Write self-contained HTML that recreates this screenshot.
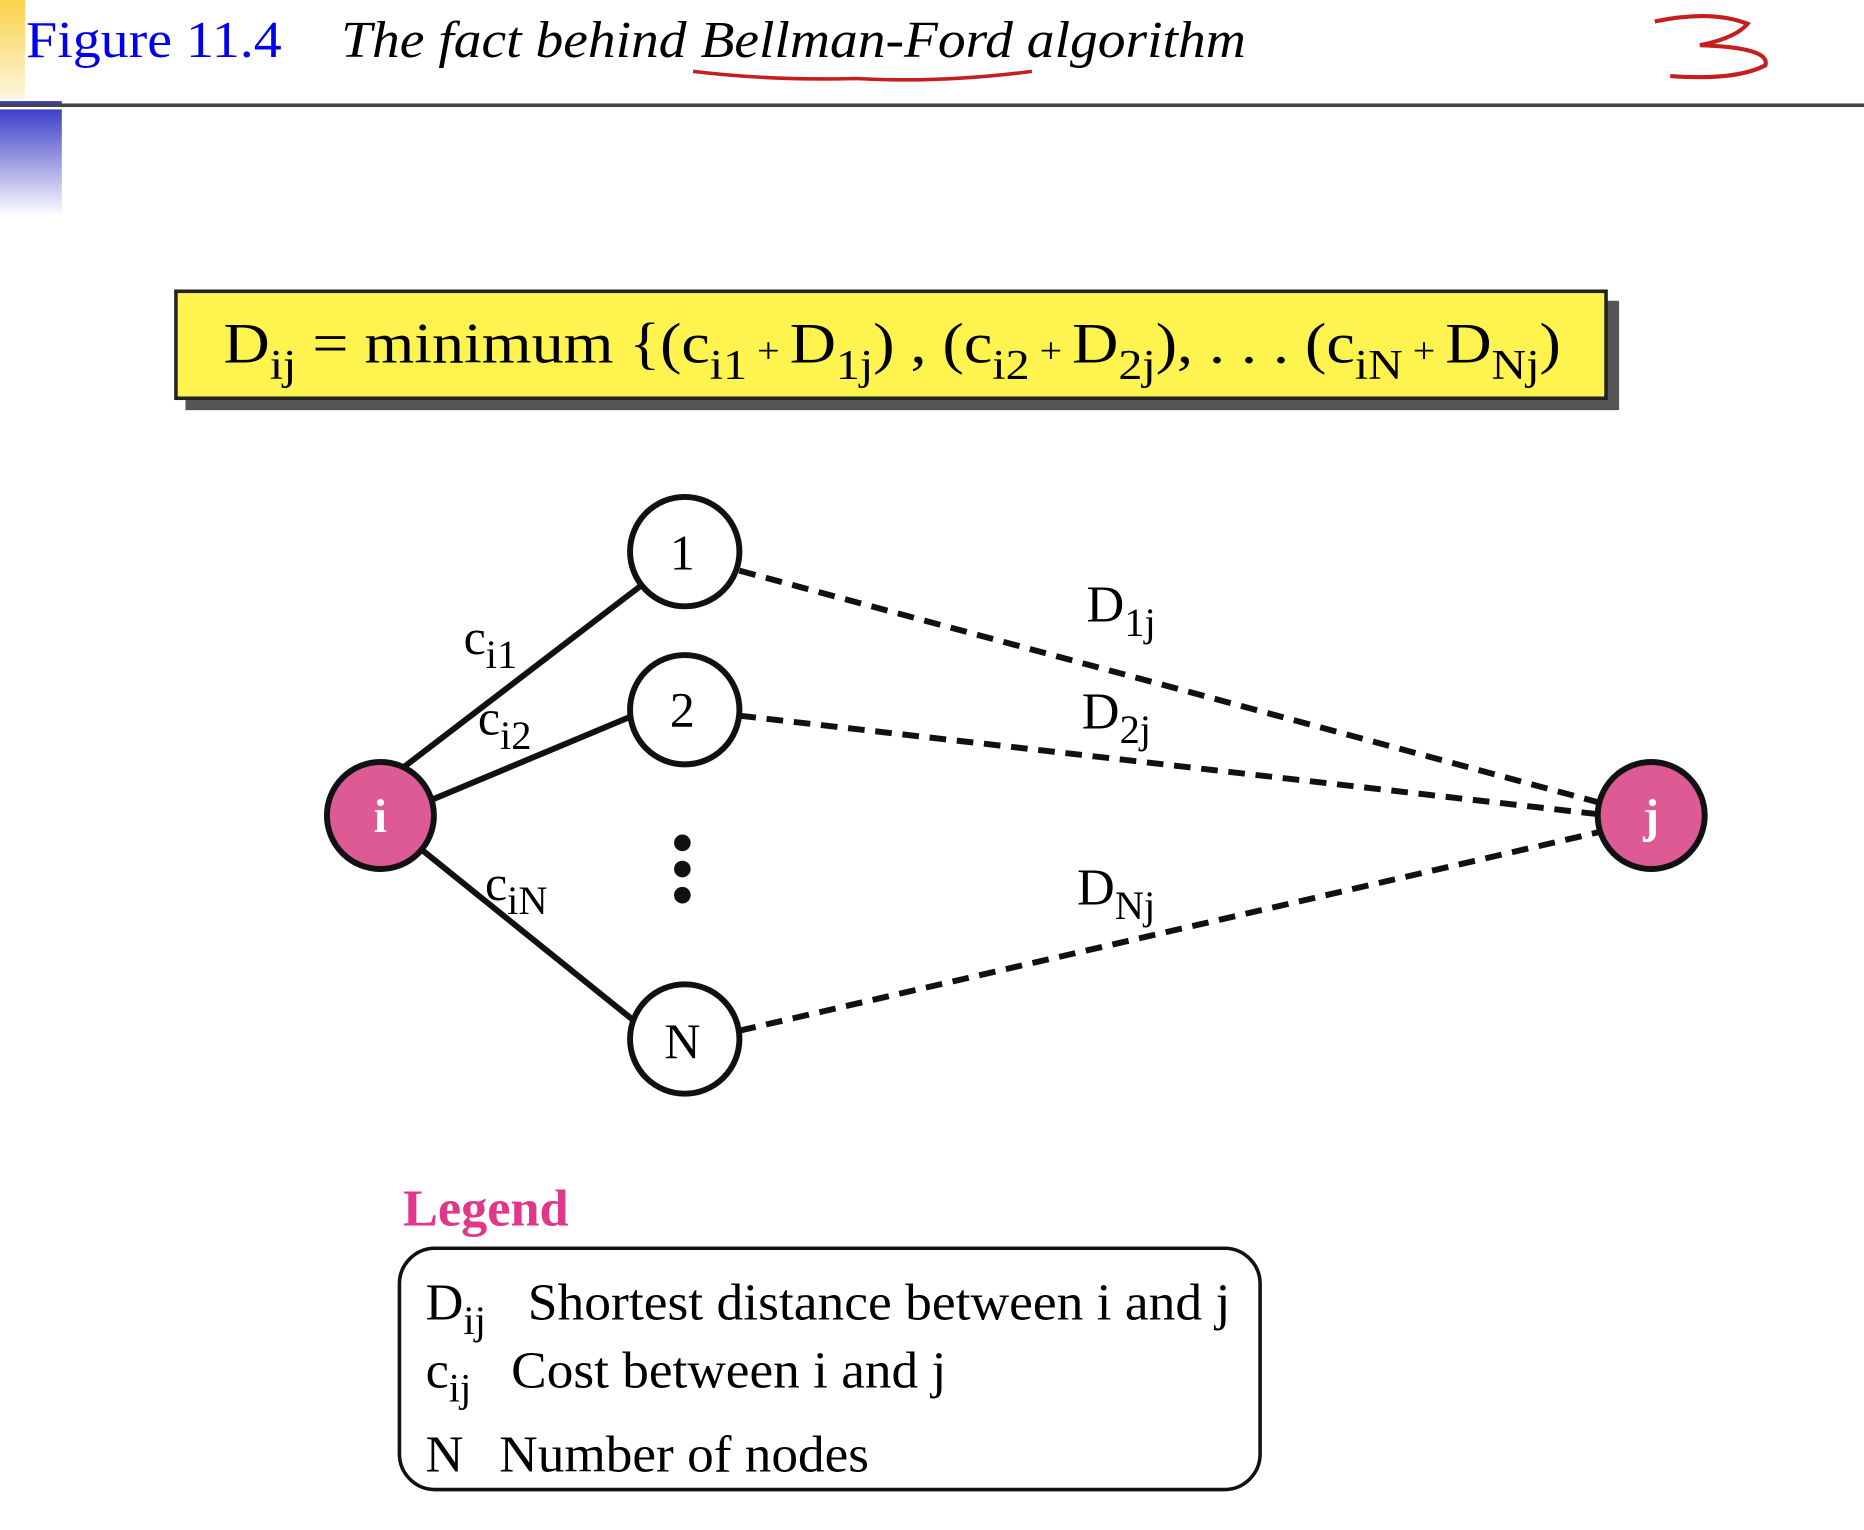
<!DOCTYPE html>
<html><head><meta charset="utf-8"><style>
html,body{margin:0;padding:0;background:#fff;}
svg{display:block;}
text{font-family:"Liberation Serif",serif;}
</style></head><body>
<svg width="1864" height="1530" viewBox="0 0 1568 1287" xmlns="http://www.w3.org/2000/svg">
<defs>
<linearGradient id="yg" x1="0" y1="0" x2="0" y2="1"><stop offset="0" stop-color="#f8d24a"/><stop offset="1" stop-color="#fdf6e0"/></linearGradient>
<linearGradient id="bg" x1="0" y1="0" x2="0" y2="1"><stop offset="0" stop-color="#3e3fc8"/><stop offset="1" stop-color="#ffffff"/></linearGradient>
</defs>
<rect x="0" y="0" width="21" height="84" fill="url(#yg)"/>
<rect x="0" y="85" width="52" height="3" fill="#3e3fc8"/>
<rect x="0" y="92" width="52" height="90" fill="url(#bg)"/>
<rect x="0" y="87" width="1568" height="3" fill="#444"/>
<text x="22" y="48" font-size="44" fill="#0000ee" textLength="215" lengthAdjust="spacingAndGlyphs">Figure 11.4</text>
<text x="287" y="48" font-size="44" font-style="italic" fill="#000" textLength="761" lengthAdjust="spacingAndGlyphs">The fact behind Bellman-Ford algorithm</text>
<path d="M583 60 Q650 68 720 66 Q790 70 868 60" stroke="#c41e1e" stroke-width="3" fill="none"/>
<path d="M1392 18 Q1440 8 1470 20 Q1460 32 1430 38 Q1490 40 1485 55 Q1460 68 1405 64" stroke="#c41e1e" stroke-width="3.5" fill="none"/>

<rect x="156" y="253" width="1206" height="92" fill="#555"/>
<rect x="148" y="245" width="1203" height="90" fill="#fff44f" stroke="#222" stroke-width="3"/>
<text x="188" y="305" font-size="48" textLength="1125" lengthAdjust="spacingAndGlyphs">D<tspan font-size="36" dy="14">ij</tspan><tspan dy="-14"> = minimum {(c</tspan><tspan font-size="36" dy="14">i1</tspan><tspan dy="-14" font-size="30"> + </tspan><tspan dy="0"> D</tspan><tspan font-size="36" dy="14">1j</tspan><tspan dy="-14">) , (c</tspan><tspan font-size="36" dy="14">i2</tspan><tspan dy="-14" font-size="30"> + </tspan><tspan> D</tspan><tspan font-size="36" dy="14">2j</tspan><tspan dy="-14">), . . . (c</tspan><tspan font-size="36" dy="14">iN</tspan><tspan dy="-14" font-size="30"> + </tspan><tspan> D</tspan><tspan font-size="36" dy="14">Nj</tspan><tspan dy="-14">)</tspan></text>

<g stroke="#111" stroke-width="5" fill="none">
<line x1="340" y1="645" x2="540" y2="492"/>
<line x1="365" y1="672" x2="530" y2="603"/>
<line x1="355" y1="715" x2="535" y2="860"/>
</g>
<g stroke="#111" stroke-width="5" fill="none" stroke-dasharray="14 9">
<line x1="622" y1="480" x2="1345" y2="675"/>
<line x1="622" y1="602" x2="1345" y2="685"/>
<line x1="622" y1="867" x2="1345" y2="700"/>
</g>
<g stroke="#111" stroke-width="5">
<circle cx="320" cy="686" r="45" fill="#dd5a95"/>
<circle cx="1389" cy="686" r="45" fill="#dd5a95"/>
<circle cx="576" cy="464" r="46" fill="#fff"/>
<circle cx="576" cy="597" r="46" fill="#fff"/>
<circle cx="576" cy="874" r="46" fill="#fff"/>
</g>
<text x="320" y="700" font-size="40" font-weight="bold" fill="#fff" text-anchor="middle">i</text>
<text x="1389" y="700" font-size="40" font-weight="bold" fill="#fff" text-anchor="middle">j</text>
<text x="574" y="479" font-size="42" text-anchor="middle">1</text>
<text x="574" y="611" font-size="42" text-anchor="middle">2</text>
<text x="574" y="890" font-size="42" text-anchor="middle">N</text>
<circle cx="574" cy="709" r="7" fill="#111"/><circle cx="574" cy="731" r="7" fill="#111"/><circle cx="574" cy="753" r="7" fill="#111"/>

<text x="390" y="550" font-size="42">c<tspan font-size="34" dy="12">i1</tspan></text>
<text x="402" y="618" font-size="42">c<tspan font-size="34" dy="12">i2</tspan></text>
<text x="408" y="757" font-size="42">c<tspan font-size="34" dy="12">iN</tspan></text>
<text x="914" y="523" font-size="44">D<tspan font-size="34" dy="12">1j</tspan></text>
<text x="910" y="613" font-size="44">D<tspan font-size="34" dy="12">2j</tspan></text>
<text x="906" y="761" font-size="44">D<tspan font-size="34" dy="12">Nj</tspan></text>

<text x="339" y="1031" font-size="44" font-weight="bold" fill="#e0378a">Legend</text>
<rect x="336" y="1050" width="724" height="203" rx="30" fill="none" stroke="#111" stroke-width="3"/>
<text x="358" y="1110" font-size="44">D<tspan font-size="34" dy="12">ij</tspan></text>
<text x="444" y="1110" font-size="44" textLength="591" lengthAdjust="spacingAndGlyphs">Shortest distance between i and j</text>
<text x="358" y="1167" font-size="44">c<tspan font-size="34" dy="12">ij</tspan></text>
<text x="430" y="1167" font-size="44" textLength="366" lengthAdjust="spacingAndGlyphs">Cost between i and j</text>
<text x="358" y="1238" font-size="44">N</text>
<text x="420" y="1238" font-size="44" textLength="311" lengthAdjust="spacingAndGlyphs">Number of nodes</text>
</svg>
</body></html>
